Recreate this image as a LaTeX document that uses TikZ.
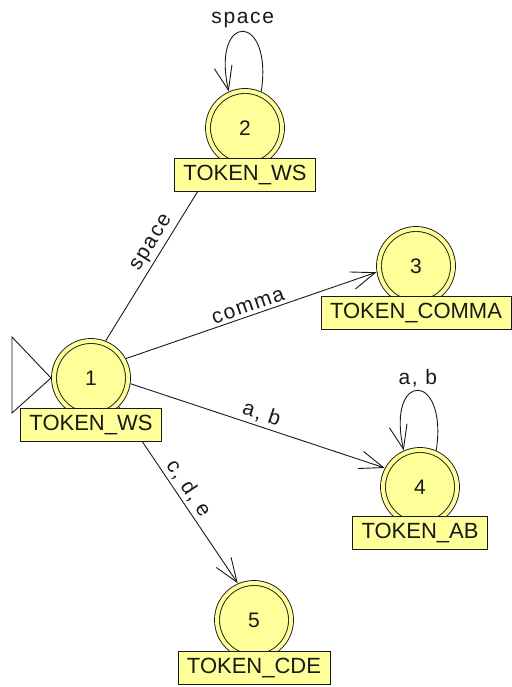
\documentclass[tikz,border=0pt]{standalone}
\usepackage{fontspec}
\setmainfont{Liberation Sans}
\newfontfamily\edgefont[LetterSpace=8]{Liberation Sans}
\usetikzlibrary{arrows.meta,calc}
\pgfdeclarelayer{back}
\pgfsetlayers{back,main}
\definecolor{stfill}{RGB}{255,255,153}
\definecolor{ink}{RGB}{25,25,25}

\begin{document}
\begin{tikzpicture}[x=1pt,y=-1pt,
  state/.style={circle, draw=ink, line width=0.9pt, fill=stfill,
    double=stfill, double distance=4pt, minimum size=74pt, inner sep=0pt,
    outer sep=3pt, text=ink, font=\fontsize{21}{21}\selectfont},
  tag/.style={draw=ink, fill=stfill, line width=0.9pt, minimum height=33pt,
    inner xsep=9pt, inner ysep=0pt, text=ink,
    font=\fontsize{22}{22}\selectfont},
  trans/.style={draw=ink, line width=0.9pt,
    -{Straight Barb[length=24pt,width=18pt,line width=0.9pt]}},
  shifted/.style={trans, shorten <=39.5pt, shorten >=39.5pt},
  lab/.style={text=ink, sloped, above, inner sep=3pt,
    font={\edgefont\fontsize{21}{21}\selectfont}},
  looplab/.style={text=ink, above, inner sep=3pt,
    font={\edgefont\fontsize{21}{21}\selectfont}}]

\useasboundingbox (0,0) rectangle (511,687);

% states
\node[state] (s1) at (91,378) {1};
\node[state] (s2) at (245,128) {2};
\node[state] (s3) at (416,266) {3};
\node[state] (s4) at (420,487) {4};
\node[state] (s5) at (254,620) {5};

% output tags under the states
\node[tag] (t1) at ($(s1)+(0,47)$) {TOKEN\_WS};
\node[tag] (t2) at ($(s2)+(0,47)$) {TOKEN\_WS};
\node[tag] (t3) at ($(s3)+(0,47)$) {TOKEN\_COMMA};
\node[tag] (t4) at ($(s4)+(0,46)$) {TOKEN\_AB};
\node[tag] (t5) at ($(s5)+(0,48)$) {TOKEN\_CDE};

\begin{pgfonlayer}{back}
  % start marker
  \coordinate (init top) at (12,337);
  \coordinate (init bottom) at (12,413);
  \draw[ink, line width=0.9pt] (init top) -- (s1.west) -- (init bottom) -- cycle;

  % transitions, drawn slightly to the left of the centre line
  \draw[shifted] ($(s1.center)!7pt!90:(s2.center)$) --
    node[lab] {space} ($(s2.center)!7pt!-90:(s1.center)$);
  \draw[shifted] ($(s1.center)!7pt!90:(s3.center)$) --
    node[lab] {comma} ($(s3.center)!7pt!-90:(s1.center)$);
  \draw[shifted] ($(s1.center)!7pt!90:(s4.center)$) --
    node[lab] {a, b} ($(s4.center)!7pt!-90:(s1.center)$);
  \draw[shifted] ($(s1.center)!7pt!90:(s5.center)$) --
    node[lab] {c, d, e} ($(s5.center)!7pt!-90:(s1.center)$);

  % self loops
  \draw[trans] (s2.66) .. controls +(12,-80) and +(-18,-80) ..
    node[looplab, pos=0.5] {space} (s2.114);
  \draw[trans] (s4.66) .. controls +(12,-80) and +(-18,-80) ..
    node[looplab, pos=0.5] {a, b} (s4.114);
\end{pgfonlayer}
\end{tikzpicture}
\end{document}
